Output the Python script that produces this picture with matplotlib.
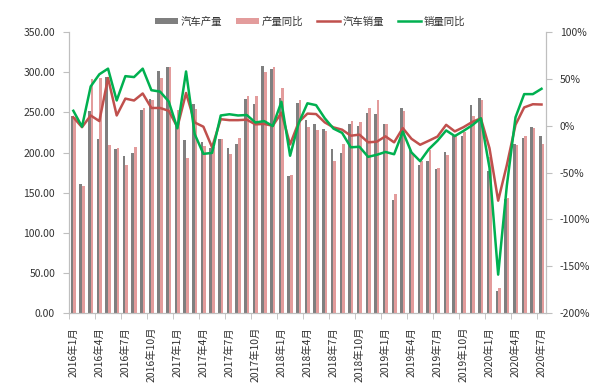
import matplotlib
matplotlib.use('Agg')
import matplotlib.pyplot as plt
import numpy as np
from matplotlib.ticker import FuncFormatter

plt.rcParams['font.family'] = ['Noto Sans CJK SC', 'DejaVu Sans']

# --- DATA ---
months = [f"{y}年{m}月" for y in range(2016, 2021) for m in range(1, 13)][:55]

production = [246, 161, 252, 217, 294, 204, 196, 199, 253, 267, 301, 306,
              235, 215, 260, 213, 206, 217, 206, 210, 267, 260, 308, 304,
              268, 171, 262, 240, 235, 229, 204, 200, 235, 233, 249, 248,
              236, 141, 256, 205, 185, 190, 180, 201, 221, 221, 259, 268,
              177, 27, 142, 211, 218, 232, 220]

prod_yoy_bar = [244, 158, 291, 293, 209, 206, 185, 207, 256, 265, 293, 306,
                253, 193, 254, 208, 207, 217, 198, 218, 271, 270, 300, 306,
                280, 172, 265, 232, 228, 227, 189, 210, 239, 238, 255, 266,
                236, 148, 252, 199, 189, 203, 181, 197, 222, 225, 245, 266,
                194, 31, 143, 209, 220, 230, 210]

sales_line = [9, -1.5, 11, 5, 51, 11, 29, 27, 34.5, 19, 19, 16,
              -1.5, 35, 3.5, -1, -23, 7, 6, 6, 6.5, 1.5, 2, 0,
              14, -20, 4, 13, 12.5, 3.6, -1.7, -4.2, -10.6, -9.5, -17.7, -17,
              -11.3, -17.7, -2.5, -13.9, -20.3, -16, -11.5, 1, -6, -1.5, 4, 8,
              -24, -80, -42, 1, 19.6, 23, 22.7]

sales_yoy = [16, -1, 42, 55, 61, 27, 53, 52, 61, 38, 36.5, 26,
             -2.7, 58, -9, -30, -29, 11, 12.3, 11, 11.5, 3.5, 5, -0.3,
             25.6, -32, 3, 24, 22, 8, -3, -7.6, -23, -22.4, -33.2, -31,
             -28, -30.4, -6.2, -28.5, -37.8, -25, -16, -5, -11, -5.5, 0.5, 8,
             -45, -159, -64, 9, 33.8, 33.8, 39.5]

# --- FIGURE ---
fig = plt.figure(figsize=(6.14, 3.92), dpi=100, facecolor='white')
ax = fig.add_axes([0.1124, 0.2015, 0.7766, 0.7165])
ax2 = ax.twinx()

x = np.arange(len(months))
w = 0.3
ax.bar(x - w / 2, production, width=w, color='#7f7f7f', label='汽车产量', zorder=2)
ax.bar(x + w / 2, prod_yoy_bar, width=w, color='#e39c9c', label='产量同比', zorder=2)

ax2.plot(x, sales_line, color='#c0504d', linewidth=1.8, label='汽车销量')
ax2.plot(x, sales_yoy, color='#00b050', linewidth=1.8, label='销量同比')

# --- AXES ---
ax.set_xlim(-0.5, len(months) - 0.5)
ax.set_ylim(0, 350)
ax.set_yticks(np.arange(0, 351, 50))
ax.yaxis.set_major_formatter(FuncFormatter(lambda v, p: f"{v:.2f}"))
ax2.set_ylim(-200, 100)
ax2.set_yticks(np.arange(-200, 101, 50))
ax2.yaxis.set_major_formatter(FuncFormatter(lambda v, p: f"{v:.0f}%"))

ax.set_xticks(x[::3])
ax.set_xticklabels(months[::3], rotation=90)
ax.set_xticks(np.arange(-0.5, len(months), 3), minor=True)
ax.tick_params(axis='x', which='major', length=0, pad=10, labelsize=7.5, colors='#333333')
ax.tick_params(axis='x', which='minor', length=4, color='#bfbfbf')
ax.tick_params(axis='y', length=4, color='#bfbfbf', labelsize=7.5, labelcolor='#333333', pad=6)
ax2.tick_params(axis='y', length=4, color='#bfbfbf', labelsize=7.5, labelcolor='#333333', pad=6)

for a in (ax, ax2):
    a.spines['top'].set_visible(False)
    for s in ('left', 'right', 'bottom'):
        a.spines[s].set_color('#bfbfbf')
        a.spines[s].set_linewidth(0.8)

# --- LEGEND ---
h1, l1 = ax.get_legend_handles_labels()
h2, l2 = ax2.get_legend_handles_labels()
fig.legend(h1 + h2, l1 + l2, loc='center', bbox_to_anchor=(0.505, 0.945), ncol=4,
           frameon=False, fontsize=7.5, handlelength=2.2, handleheight=0.6,
           columnspacing=1.3, handletextpad=0.3, labelcolor='#333333')

fig.savefig('out.png', dpi=100)
